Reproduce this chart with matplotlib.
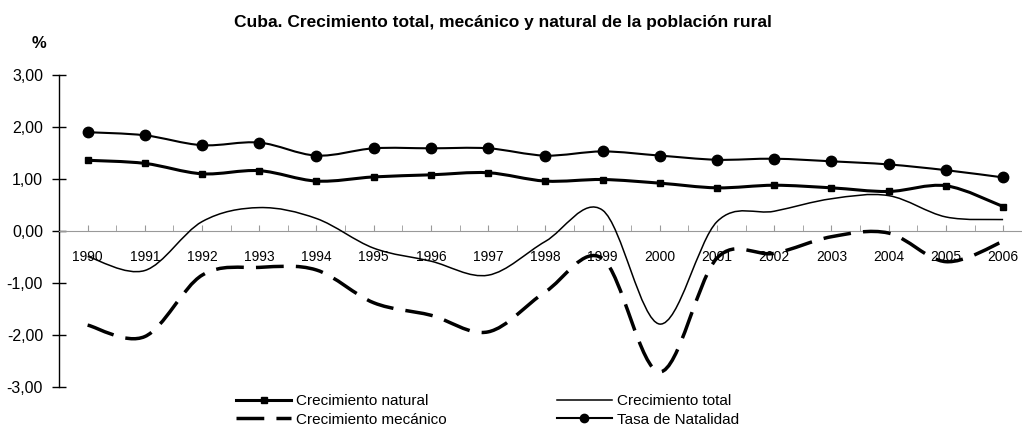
import matplotlib
matplotlib.use("Agg")
import matplotlib.pyplot as plt
from matplotlib.path import Path
from matplotlib.patches import PathPatch
from matplotlib.lines import Line2D

plt.rcParams["font.family"] = ["Liberation Sans", "DejaVu Sans"]

years = list(range(1990, 2007))
year_labels = [str(y) for y in years]

natural = [1.36, 1.30, 1.10, 1.16, 0.96, 1.04, 1.08, 1.12, 0.96, 0.99,
           0.92, 0.83, 0.88, 0.83, 0.76, 0.87, 0.47]
mecanico = [-1.81, -2.03, -0.85, -0.70, -0.75, -1.38, -1.62, -1.94, -1.17, -0.53,
            -2.71, -0.52, -0.43, -0.11, -0.04, -0.59, -0.20]
total = [-0.49, -0.76, 0.18, 0.45, 0.24, -0.33, -0.58, -0.85, -0.20, 0.40,
         -1.79, 0.18, 0.38, 0.62, 0.68, 0.27, 0.22]
natalidad = [1.90, 1.84, 1.65, 1.70, 1.45, 1.59, 1.59, 1.59, 1.45, 1.53,
             1.45, 1.37, 1.39, 1.34, 1.28, 1.17, 1.03]

yticks = [-3, -2, -1, 0, 1, 2, 3]
ytick_labels = ["-3,00", "-2,00", "-1,00", "0,00", "1,00", "2,00", "3,00"]

title = "Cuba. Crecimiento total, mecánico y natural de la población rural"
legend_labels = ["Crecimiento natural", "Crecimiento mecánico",
                 "Crecimiento total", "Tasa de Natalidad"]


def smooth_path(x, y):
    # Excel-like smoothed line: cubic Bezier through every data point
    n = len(x)
    verts = [(x[0], y[0])]
    codes = [Path.MOVETO]
    for i in range(n - 1):
        a = i - 1 if i > 0 else i
        d = i + 2 if i + 2 < n else i + 1
        c1 = (x[i] + (x[i + 1] - x[a]) / 6, y[i] + (y[i + 1] - y[a]) / 6)
        c2 = (x[i + 1] - (x[d] - x[i]) / 6, y[i + 1] - (y[d] - y[i]) / 6)
        verts += [c1, c2, (x[i + 1], y[i + 1])]
        codes += [Path.CURVE4] * 3
    return Path(verts, codes)


def main():
    fig = plt.figure(figsize=(10.22, 4.30), dpi=100)
    ax = fig.add_axes([59 / 1022, 0.10, 1 - 59 / 1022, 0.7256])

    dash = (0, (8, 3.5))
    ax.add_patch(PathPatch(smooth_path(years, natural), fill=False,
                           lw=2.2, color="black", zorder=3))
    ax.add_patch(PathPatch(smooth_path(years, mecanico), fill=False,
                           lw=2.5, ls=dash, color="black", zorder=3,
                           capstyle="butt"))
    ax.add_patch(PathPatch(smooth_path(years, total), fill=False,
                           lw=1.1, color="black", zorder=3))
    ax.add_patch(PathPatch(smooth_path(years, natalidad), fill=False,
                           lw=1.5, color="black", zorder=3))
    ax.plot(years, natural, ls="none", marker="s", ms=5, color="black", zorder=4)
    ax.plot(years, natalidad, ls="none", marker="o", ms=7.5, color="black", zorder=4)

    ax.set_xlim(1989.5, 2006.33)
    ax.set_ylim(-3, 3)

    ax.spines["top"].set_visible(False)
    ax.spines["right"].set_visible(False)
    ax.spines["bottom"].set_position(("data", 0))
    ax.spines["bottom"].set_color("#999999")
    ax.spines["left"].set_linewidth(1.0)

    ax.set_xticks(years)
    ax.set_xticklabels(year_labels, fontsize=10)
    ax.set_xticks([y + 0.5 for y in years[:-1]] + [1989.5], minor=True)
    ax.tick_params(axis="x", which="both", direction="in", length=4,
                   color="#999999", pad=14)
    ax.set_yticks(yticks)
    ax.set_yticklabels(ytick_labels, fontsize=11.5)
    ax.tick_params(axis="y", direction="inout", length=10, width=1, pad=6.5)

    fig.text(503 / 1022, 1 - 22 / 430, title, ha="center", va="center",
             fontsize=12.5, fontweight="bold")
    fig.text(39 / 1022, 1 - 44 / 430, "%", ha="center", va="center",
             fontsize=12, fontweight="bold")

    handles = [
        Line2D([], [], color="black", lw=2.2, marker="s", ms=4),
        Line2D([], [], color="black", lw=2.5, ls=dash),
        Line2D([], [], color="black", lw=1.1),
        Line2D([], [], color="black", lw=1.5, marker="o", ms=6),
    ]
    fig.legend(handles, legend_labels, ncol=2, frameon=False,
               loc="upper left", bbox_to_anchor=(236 / 1022, 1 - 394 / 430),
               borderaxespad=0, borderpad=0, fontsize=11,
               handlelength=3.6, handletextpad=0.33, columnspacing=7.2,
               labelspacing=0.3)

    plt.savefig("out.png", dpi=100)


if __name__ == "__main__":
    main()
